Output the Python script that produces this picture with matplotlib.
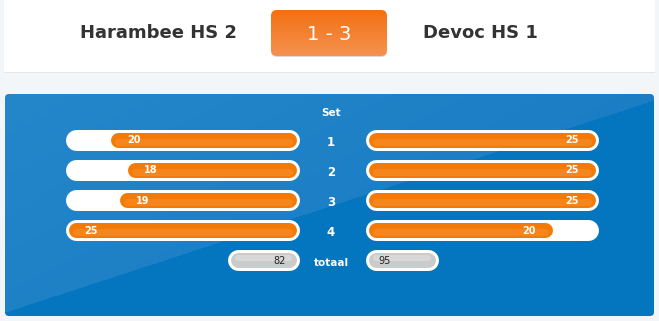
import matplotlib
matplotlib.use("Agg")
import matplotlib.pyplot as plt
import numpy as np
from matplotlib.patches import FancyBboxPatch, Rectangle
from matplotlib.colors import to_rgb

HOME_TEAM = "Harambee HS 2"
AWAY_TEAM = "Devoc HS 1"
MATCH_SCORE = "1 - 3"
SET_LABELS = ["1", "2", "3", "4"]
HOME_POINTS = [20, 18, 19, 25]
AWAY_POINTS = [25, 25, 25, 20]
HOME_TOTAL = 82
AWAY_TOTAL = 95
MAX_POINTS = 25

W, H = 659, 321
ORANGE = "#f47a08"
ORANGE_LIGHT = "#f68d2c"
GREY = "#cbcbcb"


def px(v):
    # pixels -> points at dpi 100
    return v * 0.72


fig = plt.figure(figsize=(W / 100, H / 100), dpi=100)
fig.patch.set_facecolor("#f2f6f9")
ax = fig.add_axes([0, 0, 1, 1])
ax.set_xlim(0, W)
ax.set_ylim(H, 0)
ax.axis("off")

# header panel
ax.add_patch(Rectangle((4, 0), 651, 73, facecolor="#e1e7eb", edgecolor="none", zorder=1))
ax.add_patch(Rectangle((4, 0), 651, 72, facecolor="white", edgecolor="none", zorder=2))

ax.text(158, 33, HOME_TEAM, ha="center", va="center", fontsize=13,
        fontweight="bold", color="#333333", zorder=5)
ax.text(480, 33, AWAY_TEAM, ha="center", va="center", fontsize=13,
        fontweight="bold", color="#333333", zorder=5)

# score box with vertical orange gradient
shadow = FancyBboxPatch((271, 11), 116, 46, boxstyle="round,pad=0,rounding_size=6",
                        facecolor="#d9d9d9", edgecolor="none", zorder=3)
ax.add_patch(shadow)
box = FancyBboxPatch((271, 10), 116, 46, boxstyle="round,pad=0,rounding_size=6",
                     facecolor="none", edgecolor="none", zorder=4)
ax.add_patch(box)
top, bot = np.array(to_rgb("#f37013")), np.array(to_rgb("#f5924f"))
t = np.linspace(0, 1, 46)[:, None, None]
grad = top + (bot - top) * t
grad = np.repeat(grad, 2, axis=1)
im = ax.imshow(grad, extent=(271, 387, 56, 10), aspect="auto", zorder=4,
               interpolation="bilinear")
im.set_clip_path(box)
ax.text(329, 34, MATCH_SCORE, ha="center", va="center", fontsize=14,
        color="white", zorder=6)

# blue panel, split diagonally in two shades
x0, y0, pw, ph = 5, 94, 649, 222
panel = FancyBboxPatch((x0, y0), pw, ph, boxstyle="round,pad=0,rounding_size=4",
                       facecolor="none", edgecolor="none", zorder=2)
ax.add_patch(panel)
xx, yy = np.meshgrid(np.arange(pw) + x0, np.arange(ph) + y0)
line_y = 312 - (xx - 5) * 212 / 649
light_a = np.array(to_rgb("#2487ca"))
light_b = np.array(to_rgb("#1679c2"))
dark = np.array(to_rgb("#0475bf"))
frac = np.clip((xx - x0) / pw * 0.6 + (yy - y0) / ph * 0.4, 0, 1)[..., None]
light = light_a + (light_b - light_a) * frac
bg = np.where((yy < line_y)[..., None], light, dark)
im2 = ax.imshow(bg, extent=(x0, x0 + pw, y0 + ph, y0), aspect="auto", zorder=2)
im2.set_clip_path(panel)

# centre labels
cx = 331
ax.text(cx, 113, "Set", ha="center", va="center", fontsize=7.5,
        fontweight="bold", color="white", zorder=5)
for i, lab in enumerate(SET_LABELS):
    ax.text(cx, 143 + 30 * i, lab, ha="center", va="center", fontsize=8.5,
            fontweight="bold", color="white", zorder=5)
ax.text(cx, 263, "totaal", ha="center", va="center", fontsize=7.5,
        fontweight="bold", color="white", zorder=5)


def bar_axes(left_px, right_px, invert):
    a = fig.add_axes([left_px / W, 1 - 275 / H, (right_px - left_px) / W, 150 / H])
    a.set_xlim(0, MAX_POINTS)
    if invert:
        a.invert_xaxis()
    a.set_ylim(4.5, -0.5)
    a.axis("off")
    a.patch.set_visible(False)
    return a


left_ax = bar_axes(75.5, 288.5, invert=True)
right_ax = bar_axes(375.5, 587.5, invert=False)

for a, points, side in ((left_ax, HOME_POINTS, "left"), (right_ax, AWAY_POINTS, "right")):
    for i, v in enumerate(points):
        a.plot([0, MAX_POINTS], [i, i], color="white", lw=px(21),
               solid_capstyle="round", clip_on=False, zorder=2)
        a.plot([0, v], [i, i], color=ORANGE, lw=px(15),
               solid_capstyle="round", clip_on=False, zorder=3)
        a.plot([0, v], [i + 0.08, i + 0.08], color=ORANGE_LIGHT, lw=px(7),
               solid_capstyle="round", clip_on=False, zorder=3, alpha=0.6)
        if side == "left":
            a.annotate(str(v), (v, i), xytext=(px(9), -px(0.5)), textcoords="offset points",
                       ha="left", va="center", fontsize=7, fontweight="bold",
                       color="white", zorder=4)
        else:
            a.annotate(str(v), (v, i), xytext=(-px(9), -px(0.5)), textcoords="offset points",
                       ha="right", va="center", fontsize=7, fontweight="bold",
                       color="white", zorder=4)

# totals pills
for (l, r), total, ha, tx in (((237.5, 288.5), HOME_TOTAL, "right", 286),
                              ((375.5, 427.5), AWAY_TOTAL, "left", 378)):
    ax.plot([l, r], [260, 260], color="white", lw=px(21),
            solid_capstyle="round", zorder=3)
    ax.plot([l, r], [260, 260], color=GREY, lw=px(15),
            solid_capstyle="round", zorder=4)
    ax.plot([l, r], [258, 258], color="#d8d8d8", lw=px(6),
            solid_capstyle="round", zorder=4)
    ax.text(tx, 260.5, str(total), ha=ha, va="center", fontsize=7,
            color="#222222", zorder=5)

fig.savefig("out.png", dpi=100, facecolor=fig.get_facecolor())
